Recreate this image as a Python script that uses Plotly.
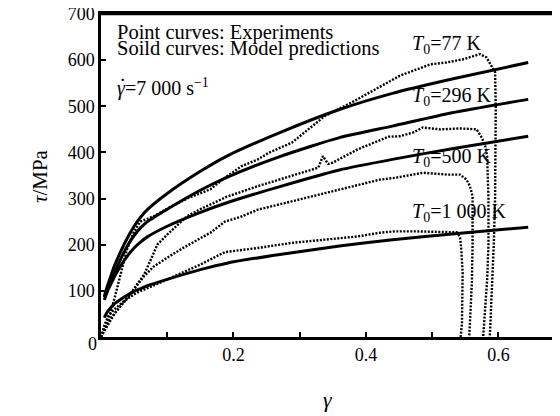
import plotly.graph_objects as go

# ---------------- data ----------------
model_gamma = [0.005, 0.01, 0.015, 0.02, 0.03, 0.04, 0.05, 0.06, 0.07, 0.1, 0.15, 0.19,
               0.27, 0.36, 0.44, 0.53, 0.645]
model_77K   = [88, 112, 133, 153, 186, 215, 240, 260, 276, 311, 359, 392,
               443, 493, 528, 559, 595]
model_296K  = [86, 105, 122, 138, 170, 198, 220, 237, 250, 277, 318, 346,
               391, 432, 457, 486, 515]
model_500K  = [80, 100, 115, 130, 155, 176, 193, 206, 217, 240, 270, 291,
               326, 362, 385, 408, 435]
model_1000K = [42, 55, 64, 72, 82, 91, 99, 105, 111, 125, 146, 160,
               179, 197, 211, 223, 238]

exp_77K_g = [0.0, 0.012, 0.021, 0.029, 0.039, 0.049, 0.059, 0.08, 0.1, 0.13, 0.165, 0.187,
             0.212, 0.237, 0.253, 0.288, 0.313, 0.338, 0.378, 0.414, 0.451, 0.497, 0.522,
             0.547, 0.572, 0.582, 0.59, 0.595, 0.596, 0.596, 0.595, 0.593, 0.59, 0.587]
exp_77K_t = [0, 40, 87, 130, 189, 226, 250, 262, 278, 300, 320, 345,
             370, 385, 399, 421, 450, 479, 508, 537, 566, 591, 595,
             602, 613, 606, 588, 574, 500, 400, 300, 200, 100, 0]

exp_296K_g = [0.0, 0.02, 0.045, 0.065, 0.075, 0.085, 0.1, 0.13, 0.15, 0.19, 0.237, 0.288,
              0.328, 0.335, 0.343, 0.35, 0.388, 0.434, 0.451, 0.471, 0.486, 0.512, 0.542,
              0.567, 0.575, 0.58, 0.583, 0.585, 0.585, 0.583, 0.58, 0.577]
exp_296K_t = [0, 50, 95, 135, 167, 200, 222, 262, 277, 304, 327, 349,
              367, 392, 375, 378, 407, 434, 435, 443, 454, 450, 452,
              450, 432, 414, 392, 300, 200, 124, 60, 0]

exp_500K_g = [0.0, 0.01, 0.02, 0.04, 0.064, 0.079, 0.1, 0.124, 0.165, 0.187, 0.21, 0.237,
              0.288, 0.338, 0.388, 0.421, 0.444, 0.486, 0.522, 0.542, 0.552, 0.557, 0.561,
              0.5615, 0.561, 0.56, 0.558, 0.556]
exp_500K_t = [0, 30, 50, 85, 130, 152, 172, 193, 226, 250, 260, 276,
              294, 312, 330, 341, 345, 356, 352, 352, 341, 327, 305,
              250, 200, 120, 60, 0]

exp_1000K_g = [0.0, 0.005, 0.011, 0.02, 0.035, 0.054, 0.08, 0.1, 0.125, 0.15, 0.187, 0.237,
               0.288, 0.338, 0.388, 0.421, 0.444, 0.471, 0.497, 0.537, 0.542, 0.544, 0.546,
               0.546, 0.545, 0.543]
exp_1000K_t = [0, 25, 45, 60, 78, 96, 112, 125, 141, 157, 184, 193,
               204, 211, 218, 226, 229, 229, 228, 227, 217, 189, 140,
               80, 30, 0]

x_tickvals = [0.2, 0.4, 0.6]
x_ticktext = ["0.2", "0.4", "0.6"]
y_tickvals = [100, 200, 300, 400, 500, 600, 700]
y_ticktext = ["100", "200", "300", "400", "500", "600", "700"]

labels = ["77 K", "296 K", "500 K", "1 000 K"]
label_y = [633, 521, 390, 270]

FONT = "Liberation Serif, Times New Roman, serif"

fig = go.Figure()

for g, t in [(exp_77K_g, exp_77K_t), (exp_296K_g, exp_296K_t),
             (exp_500K_g, exp_500K_t), (exp_1000K_g, exp_1000K_t)]:
    fig.add_trace(go.Scatter(x=g, y=t, mode="lines",
                             line=dict(color="black", width=2.4, dash="2px,1.5px"),
                             showlegend=False, hoverinfo="skip"))

for m in [model_77K, model_296K, model_500K, model_1000K]:
    fig.add_trace(go.Scatter(x=model_gamma, y=m, mode="lines",
                             line=dict(color="black", width=3, shape="spline", smoothing=0.6),
                             showlegend=False, hoverinfo="skip"))

ann = []
for lab, ly in zip(labels, label_y):
    ann.append(dict(x=0.4668, y=ly, xref="x", yref="y", xanchor="left", yanchor="middle",
                    text="<i>T</i><sub>0</sub>=" + lab, showarrow=False,
                    font=dict(family=FONT, size=20, color="black")))

ann += [
    dict(x=0.021, y=660, xref="x", yref="y", xanchor="left", yanchor="middle",
         text="Point curves: Experiments", showarrow=False,
         font=dict(family=FONT, size=20.5, color="black")),
    dict(x=0.021, y=625, xref="x", yref="y", xanchor="left", yanchor="middle",
         text="Soild curves: Model predictions", showarrow=False,
         font=dict(family=FONT, size=20.5, color="black")),
    dict(x=0.021, y=540, xref="x", yref="y", xanchor="left", yanchor="middle",
         text="<i>\u03b3</i>=7 000 s<sup>\u22121</sup>", showarrow=False,
         font=dict(family=FONT, size=20, color="black")),
    dict(x=0.032, y=545, xref="x", yref="y", xanchor="center", yanchor="middle",
         text="\u02d9", showarrow=False,
         font=dict(family=FONT, size=22, color="black")),
    dict(x=-0.133, y=0.498, xref="paper", yref="paper", xanchor="center", yanchor="middle",
         text="<i>\u03c4</i>/MPa", textangle=-90, showarrow=False,
         font=dict(family=FONT, size=21, color="black")),
    dict(x=0.495, y=-0.195, xref="paper", yref="paper", xanchor="center", yanchor="middle",
         text="<i>\u03b3</i>", showarrow=False,
         font=dict(family=FONT, size=22, color="black")),
    dict(x=-0.0185, y=-0.022, xref="paper", yref="paper", xanchor="center", yanchor="middle",
         text="0", showarrow=False,
         font=dict(family=FONT, size=18, color="black")),
]

# page body has an 8px margin, so the figure is drawn 8px in from the corner
fig.update_layout(
    template="none",
    width=552, height=408,
    margin=dict(l=93, r=0, t=6, b=79, autoexpand=False),
    paper_bgcolor="white", plot_bgcolor="white",
    font=dict(family=FONT, size=18, color="black"),
    annotations=ann,
    shapes=[dict(type="line", xref="paper", yref="paper", x0=0, x1=1, y0=1, y1=1,
                 line=dict(color="black", width=2.5))],
    xaxis=dict(range=[0, 0.693], tickvals=x_tickvals, ticktext=x_ticktext,
               ticks="inside", ticklen=5, tickwidth=2, tickcolor="black",
               minor=dict(tickvals=[0.1, 0.3, 0.5], ticks="inside", ticklen=5,
                          tickwidth=2, tickcolor="black", showgrid=False),
               showline=True, linewidth=2.5, linecolor="black", mirror=True,
               showgrid=False, zeroline=False, automargin=False,
               ticklabeloverflow="allow",
               tickfont=dict(family=FONT, size=18, color="black")),
    yaxis=dict(range=[0, 700], tickvals=y_tickvals, ticktext=y_ticktext,
               ticks="inside", ticklen=5, tickwidth=2, tickcolor="black",
               showline=True, linewidth=2.5, linecolor="black", mirror=False,
               showgrid=False, zeroline=False, automargin=False,
               ticklabeloverflow="allow",
               tickfont=dict(family=FONT, size=18, color="black")),
)

fig.write_html("out.html")
